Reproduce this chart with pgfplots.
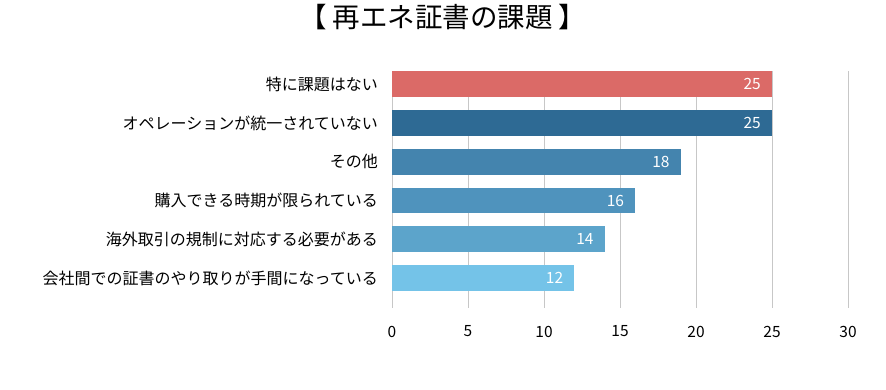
\documentclass[border=0pt]{standalone}
\usepackage{fontspec}
\setmainfont{Noto Sans CJK JP}
\usepackage{pgfplots}
\pgfplotsset{compat=1.18}
\definecolor{c1}{HTML}{DB6A67}
\definecolor{c2}{HTML}{2E6A94}
\definecolor{c3}{HTML}{4484AE}
\definecolor{c4}{HTML}{4F93BD}
\definecolor{c5}{HTML}{5CA4CB}
\definecolor{c6}{HTML}{74C3E8}
\begin{document}
\begin{tikzpicture}[x=1pt,y=1pt]
\path[use as bounding box] (0,0) rectangle (886,389);
\node[font=\fontsize{27.5}{31}\selectfont, inner sep=0pt] at (443,371.5) {【\hspace{6pt}再エネ証書の課題\hspace{6pt}】};
\begin{axis}[
  at={(392pt,81pt)}, anchor=south west,
  scale only axis, width=456pt, height=237pt,
  xmin=0, xmax=30, ymin=-0.34, ymax=5.77,
  y dir=reverse,
  xtick={0,5,...,30},
  ytick={0,1,2,3,4,5},
  yticklabels={特に課題はない,オペレーションが統一されていない,その他,購入できる時期が限られている,海外取引の規制に対応する必要がある,会社間での証書のやり取りが手間になっている},
  xmajorgrids, grid style={draw=black!22, line width=0.9pt},
  axis line style={draw=none},
  major tick length=0pt,
  /pgf/number format/assume math mode=true,
  ticklabel style={font=\fontsize{15.5}{18}\selectfont, text=black},
  yticklabel style={font=\fontsize{16}{19}\selectfont, anchor=east, inner sep=0pt, xshift=-14pt},
  xticklabel style={anchor=center, yshift=-23.5pt},
  xbar, bar width=25.7pt, bar shift=0pt,
  point meta=explicit symbolic,
  nodes near coords,
  nodes near coords style={anchor=east, inner sep=0pt, xshift=-11pt, text=white, font=\fontsize{15.5}{18}\selectfont},
]
\addplot[draw=none, fill=c1] coordinates {(25,0) [25]};
\addplot[draw=none, fill=c2] coordinates {(25,1) [25]};
\addplot[draw=none, fill=c3] coordinates {(19,2) [18]};
\addplot[draw=none, fill=c4] coordinates {(16,3) [16]};
\addplot[draw=none, fill=c5] coordinates {(14,4) [14]};
\addplot[draw=none, fill=c6] coordinates {(12,5) [12]};
\end{axis}
\end{tikzpicture}
\end{document}
